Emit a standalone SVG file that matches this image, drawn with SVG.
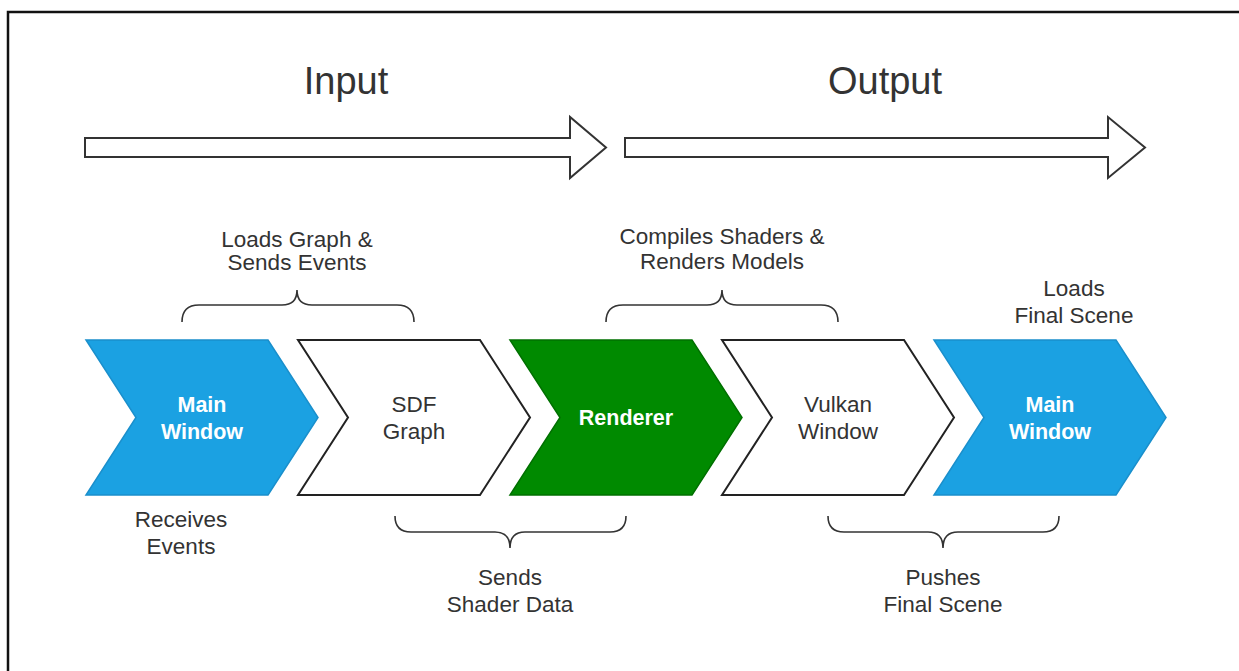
<svg xmlns="http://www.w3.org/2000/svg" width="1239" height="671" viewBox="0 0 1239 671">
<style>
text{font-family:"Liberation Sans",Arial,sans-serif;fill:#333;font-size:22.5px;text-anchor:middle}
.big{font-size:38px}
.wb{fill:#fff;font-weight:bold;font-size:21.5px}
.arrow{fill:#fff;stroke:#333;stroke-width:2;stroke-linejoin:miter}
.brace{fill:none;stroke:#333;stroke-width:1.6}
.blue{fill:#1ba1e2;stroke:#1a8fcc;stroke-width:1.5}
.white{fill:#fff;stroke:#222;stroke-width:2}
.green{fill:#008a00;stroke:#007000;stroke-width:1.5}
</style>
<rect x="0" y="0" width="1239" height="671" fill="#fff"/>
<rect x="8" y="12" width="1300" height="760" fill="none" stroke="#111" stroke-width="2.5"/>

<g id="phase-input">
<polygon class="arrow" points="85,138 570,138 570,117 606,147.5 570,178 570,157 85,157"/>
<text class="big" x="346" y="94">Input</text>
</g>
<g id="phase-output">
<polygon class="arrow" points="625,138 1108,138 1108,117 1145,147.5 1108,178 1108,157 625,157"/>
<text class="big" x="885" y="94">Output</text>
</g>

<g id="main-window-1">
<polygon class="blue" points="86,340 268,340 318,417.5 268,495 86,495 136,417.5"/>
<text class="wb" x="202" y="412">Main</text>
<text class="wb" x="202" y="439">Window</text>
</g>
<g id="sdf-graph">
<polygon class="white" points="298,340 480,340 530,417.5 480,495 298,495 348,417.5"/>
<text x="414" y="412">SDF</text>
<text x="414" y="439">Graph</text>
</g>
<g id="renderer">
<polygon class="green" points="510,340 692,340 742,417.5 692,495 510,495 560,417.5"/>
<text class="wb" x="626" y="425">Renderer</text>
</g>
<g id="vulkan-window">
<polygon class="white" points="722,340 904,340 954,417.5 904,495 722,495 772,417.5"/>
<text x="838" y="412">Vulkan</text>
<text x="838" y="439">Window</text>
</g>
<g id="main-window-2">
<polygon class="blue" points="934,340 1116,340 1166,417.5 1116,495 934,495 984,417.5"/>
<text class="wb" x="1050" y="412">Main</text>
<text class="wb" x="1050" y="439">Window</text>
</g>

<g id="connectors">
<path class="brace" d="M182,322 Q182,305 199,305 L282,305 Q297,305 297,290 Q297,305 312,305 L397,305 Q414,305 414,322"/>
<path class="brace" d="M606,322 Q606,305 623,305 L707,305 Q722,305 722,290 Q722,305 737,305 L821,305 Q838,305 838,322"/>
<path class="brace" d="M395,516 Q395,532 411,532 L495,532 Q510,532 510,548 Q510,532 525,532 L610,532 Q626,532 626,516"/>
<path class="brace" d="M828,516 Q828,532 844,532 L928,532 Q943,532 943,548 Q943,532 958,532 L1043,532 Q1059,532 1059,516"/>
</g>

<g id="labels">
<text x="297" y="247">Loads Graph &amp;</text>
<text x="297" y="270">Sends Events</text>
<text x="722" y="244">Compiles Shaders &amp;</text>
<text x="722" y="269">Renders Models</text>
<text x="1074" y="296">Loads</text>
<text x="1074" y="323">Final Scene</text>
<text x="181" y="527">Receives</text>
<text x="181" y="554">Events</text>
<text x="510" y="585">Sends</text>
<text x="510" y="612">Shader Data</text>
<text x="943" y="585">Pushes</text>
<text x="943" y="612">Final Scene</text>
</g>
</svg>
